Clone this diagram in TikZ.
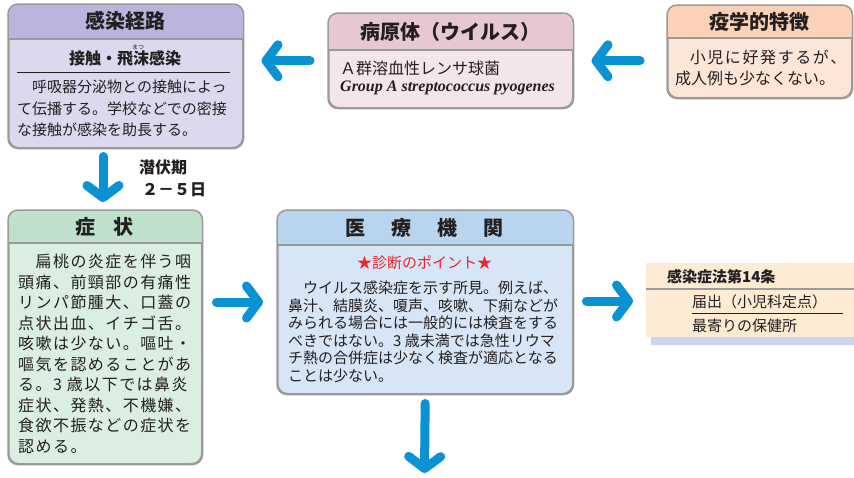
\documentclass[tikz,border=0pt]{standalone}
\usepackage{fontspec}
\setmainfont{Noto Sans CJK JP}
\newfontfamily\enfont{Liberation Serif}
\newfontfamily\cjkwide[LetterSpace=10]{Noto Sans CJK JP}
\newfontfamily\cjkmid[LetterSpace=9]{Noto Sans CJK JP}
\usetikzlibrary{arrows.meta,calc}
\definecolor{txt}{HTML}{231F20}
\definecolor{bline}{HTML}{9A9A9A}
\definecolor{abl}{HTML}{0A92D3}
\definecolor{hA}{HTML}{B9B5DC}\definecolor{bA}{HTML}{DCD9EE}
\definecolor{hB}{HTML}{E8C7D5}\definecolor{bB}{HTML}{F4E4EC}
\definecolor{hC}{HTML}{FBD2B8}\definecolor{bC}{HTML}{FDE5D7}
\definecolor{hD}{HTML}{BFE0CA}\definecolor{bD}{HTML}{DAEEE1}
\definecolor{hE}{HTML}{B8D4EF}\definecolor{bE}{HTML}{D6E6F6}
\definecolor{bF}{HTML}{FDEBD4}\definecolor{sF}{HTML}{C9D5EE}
\definecolor{redt}{HTML}{E8262B}
\tikzset{
  every node/.style={text=txt, inner sep=0pt},
  boxnode/.style={draw=bline, line width=1.5pt, rounded corners=10pt, anchor=north west},
  bordl/.style={draw=bline, line width=1.5pt},
  ttl/.style={font=\bfseries\fontsize{20}{24}\selectfont},
  subt/.style={font=\bfseries\fontsize{16}{19}\selectfont},
  bodyf/.style={font=\fontsize{15}{17.5}\selectfont, align=left, anchor=north west},
  barrow/.style={draw=abl, line width=9pt, line cap=round,
     -{Straight Barb[length=12pt, width=32pt, line width=9pt, round]}},
}
\newcommand\hdrfill[3]{%
  \begin{scope}
  \clip[rounded corners=10pt] (#1.north west) rectangle (#1.south east);
  \fill[#3] (#1.north west) rectangle (#1.east |- 0,#2);
  \end{scope}
  \draw[bordl] (#1.west |- 0,#2) -- (#1.east |- 0,#2);
  \draw[bordl, rounded corners=10pt] (#1.north west) rectangle (#1.south east);}
\begin{document}
\begin{tikzpicture}[x=1pt,y=-1pt]
\useasboundingbox[fill=white] (0,0) rectangle (854,477);

% boxes
\node[boxnode, fill=bA, minimum width=234pt, minimum height=143pt] (b1) at (8,4) {};
\hdrfill{b1}{39}{hA}
\node[boxnode, fill=bB, minimum width=244pt, minimum height=94pt] (b2) at (328,13) {};
\hdrfill{b2}{50}{hB}
\node[boxnode, fill=bC, minimum width=184pt, minimum height=92pt] (b3) at (667,5) {};
\hdrfill{b3}{38}{hC}
\node[boxnode, fill=bD, minimum width=193pt, minimum height=253pt] (b4) at (8,210) {};
\hdrfill{b4}{243}{hD}
\node[boxnode, fill=bE, minimum width=295pt, minimum height=183pt] (b5) at (277,210) {};
\hdrfill{b5}{245}{hE}
\fill[sF] (651,337) rectangle (854,345);
\node[fill=bF, minimum width=208pt, minimum height=74pt, anchor=north west] (b6) at (646,263) {};

% titles
\node[ttl] (t1) at (125,21) {感染経路};
\node[ttl] (t2) at (450,32) {病原体（ウイルス）};
\node[ttl] (t3) at (759,22) {疫学的特徴};
\node[ttl] (t4) at (104.5,227) {症\hspace{18pt}状};
\node[ttl] (t5) at (424.5,228) {医\hspace{26pt}療\hspace{26pt}機\hspace{26pt}関};

% box 1 body
\node[subt] (s1) at (125,58) {接触・飛沫感染};
\node[font=\fontsize{6}{6}\selectfont] (r1) at (138,47) {まつ};
\draw[line width=1pt, txt] (17,72) -- (230,72);
\node[bodyf, font=\fontsize{15}{21.5}\selectfont] (x1) at (17,80)
  {　呼吸器分泌物との接触によっ\\て伝播する。学校などでの密接\\な接触が感染を助長する。};

% box 2 body
\node[font=\fontsize{16}{19}\selectfont, anchor=west] (x2a) at (340,68) {Ａ群溶血性レンサ球菌};
\node[font=\enfont\bfseries\itshape\fontsize{16}{18}\selectfont, anchor=west] (x2b) at (340,88) {Group A streptococcus pyogenes};

% box 3 body
\node[font=\cjkwide\fontsize{16}{19}\selectfont, anchor=west] (x3a) at (672,57) {　小児に好発するが、};
\node[font=\fontsize{16}{19}\selectfont, anchor=west] (x3b) at (675,78) {成人例も少なくない。};

% box 4 body
\node[bodyf, font=\cjkmid\fontsize{16}{20.5}\selectfont] (x4) at (18,254)
  {　扁桃の炎症を伴う咽\\頭痛、前頸部の有痛性\\リンパ節腫大、口蓋の\\点状出血、イチゴ舌。\\咳嗽は少ない。嘔吐・\\嘔気を認めることがあ\\る。3 歳以下では鼻炎\\症状、発熱、不機嫌、\\食欲不振などの症状を\\認める。};

% box 5 body
\node[font=\fontsize{15}{18}\selectfont, text=redt] (x5r) at (424.5,263) {★診断のポイント★};
\node[bodyf] (x5) at (288,281)
  {　ウイルス感染症を示す所見。例えば、\\鼻汁、結膜炎、嗄声、咳嗽、下痢などが\\みられる場合には一般的には検査をする\\べきではない。3 歳未満では急性リウマ\\チ熱の合併症は少なく検査が適応となる\\ことは少ない。};

% box 6 body
\node[font=\bfseries\fontsize{15}{18}\selectfont, anchor=west] (x6a) at (667,277) {感染症法第14条};
\draw[bline, line width=2pt] (646,289) -- (854,289);
\node[font=\fontsize{15}{18}\selectfont, anchor=west] (x6b) at (692,302) {届出（小児科定点）};
\draw[txt, line width=1pt] (692,313) -- (843,313);
\node[font=\fontsize{15}{18}\selectfont, anchor=west] (x6c) at (692,326) {最寄りの保健所};

% incubation label
\node[subt, anchor=west] (l1) at (139,167) {潜伏期};
\node[subt, anchor=west] (l2) at (142,190) {２－５日};

% arrows
\coordinate (endd) at (424.5,473);
\draw[barrow, shorten <=18pt, shorten >=18pt] (b2.west) -- (b1.east |- b2.west);
\draw[barrow, shorten <=27pt, shorten >=18pt] (b3.west |- b2.east) -- (b2.east);
\draw[barrow, shorten <=8pt, shorten >=8pt] (103,0 |- b1.south) -- (103,0 |- b4.north);
\draw[barrow, shorten <=14pt, shorten >=14pt] (b4.east |- 0,302) -- (b5.west |- 0,302);
\draw[barrow, shorten <=13pt, shorten >=13pt] (b5.east |- 0,301) -- (b6.west |- 0,301);
\draw[barrow, shorten <=9pt] (b5.south) -- (endd);
\end{tikzpicture}
\end{document}
